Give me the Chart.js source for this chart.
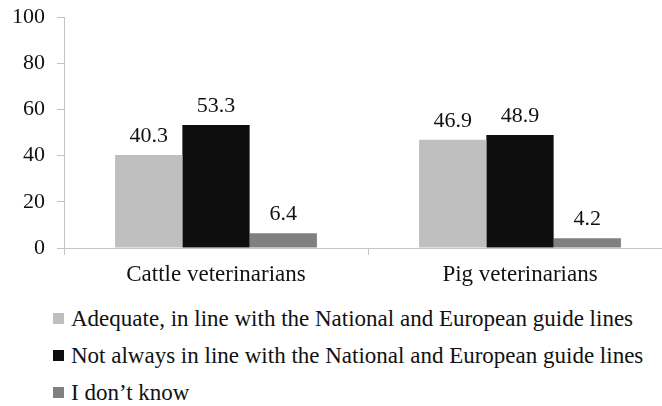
<!DOCTYPE html>
<html>
<head>
    <meta charset="UTF-8">
    <script src="https://cdn.jsdelivr.net/npm/chart.js"></script>
    <style>
        body {
            margin: 0;
            width: 662px;
            height: 406px;
            overflow: hidden;
            background: #fff;
            font-family: 'Liberation Serif';
            position: relative;
        }
        .chart-box {
            position: absolute;
            left: 0;
            top: 0;
            width: 672px;
            height: 290px;
        }
        #legend {
            position: absolute;
            left: 53px;
            top: 300px;
            font-family: 'Liberation Serif';
            font-size: 23px;
            line-height: 37px;
            color: #111;
            white-space: nowrap;
        }
        #legend .swatch {
            display: inline-block;
            width: 11px;
            height: 11px;
            margin-bottom: 2px;
            margin-right: 7px;
            vertical-align: baseline;
        }
    </style>
</head>
<body>
<div class="chart-box">
    <canvas id="vetChart" width="672" height="290"></canvas>
</div>
<div id="legend"></div>

<script>
    // categorias e valores (%)
    const categories = ['Cattle veterinarians', 'Pig veterinarians'];
    const seriesNames = [
        'Adequate, in line with the National and European guide lines',
        'Not always in line with the National and European guide lines',
        'I don\u2019t know'
    ];
    const adequate = [40.3, 46.9];
    const notAlways = [53.3, 48.9];
    const dontKnow = [6.4, 4.2];
    const yTicks = [0, 20, 40, 60, 80, 100];
    const colors = ['#bfbfbf', '#0e0e0e', '#808080'];

    const font = { family: "'Liberation Serif'", size: 22 };
    const catFont = { family: "'Liberation Serif'", size: 23 };
    const axisColor = '#c4c4c4';

    // valores em cima das barras
    const valueLabels = {
        id: 'valueLabels',
        afterDatasetsDraw(chart) {
            const ctx = chart.ctx;
            ctx.save();
            ctx.font = font.size + 'px ' + font.family;
            ctx.fillStyle = '#111';
            ctx.textAlign = 'center';
            ctx.textBaseline = 'alphabetic';
            chart.data.datasets.forEach((ds, i) => {
                chart.getDatasetMeta(i).data.forEach((bar, j) => {
                    ctx.fillText(ds.data[j].toFixed(1), bar.x, bar.y - 13);
                });
            });
            ctx.restore();
        }
    };

    const seriesData = [adequate, notAlways, dontKnow];

    const chart = new Chart(document.getElementById('vetChart'), {
        type: 'bar',
        data: {
            labels: categories,
            datasets: seriesData.map((d, i) => ({
                label: seriesNames[i],
                data: d,
                backgroundColor: colors[i],
                borderWidth: 0,
                categoryPercentage: 0.664,
                barPercentage: 1
            }))
        },
        options: {
            responsive: false,
            animation: false,
            layout: { padding: { top: 17, right: 0, left: 0, bottom: 0 } },
            plugins: {
                legend: { display: false },
                tooltip: { enabled: false }
            },
            scales: {
                x: {
                    offset: true,
                    grid: {
                        offset: true,
                        drawOnChartArea: false,
                        drawTicks: true,
                        tickLength: 7,
                        color: axisColor
                    },
                    border: { color: axisColor, width: 1 },
                    ticks: { font: catFont, color: '#111', padding: 6 },
                    afterFit(scale) { scale.height = 42; }
                },
                y: {
                    min: 0,
                    max: 100,
                    afterBuildTicks(scale) {
                        scale.ticks = yTicks.map(v => ({ value: v }));
                    },
                    grid: {
                        drawOnChartArea: false,
                        drawTicks: true,
                        tickLength: 7,
                        color: axisColor
                    },
                    border: { color: axisColor, width: 1 },
                    ticks: { font: font, color: '#111', padding: 12 },
                    afterFit(scale) {
                        scale.width = 64;
                        scale.paddingTop = 0;
                        scale.paddingBottom = 0;
                    }
                }
            }
        },
        plugins: [valueLabels]
    });

    // legenda em HTML, uma linha por série
    const legend = document.getElementById('legend');
    seriesNames.forEach((name, i) => {
        const row = document.createElement('div');
        const sw = document.createElement('span');
        sw.className = 'swatch';
        sw.style.background = colors[i];
        row.appendChild(sw);
        row.appendChild(document.createTextNode(name));
        legend.appendChild(row);
    });
</script>
</body>
</html>
